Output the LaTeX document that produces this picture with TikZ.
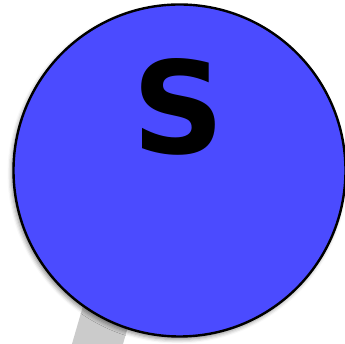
\documentclass[tikz,border=0pt]{standalone}
\usepackage{fontspec}
\setmainfont{DejaVu Sans}
\usepackage{tikz}
\usetikzlibrary{positioning, shadows.blur}

\definecolor{nodeblue}{HTML}{4B4BFF}
\definecolor{bandgray}{HTML}{CBCBCB}

\tikzset{
  bignode/.style={circle, draw=black, line width=2.4pt, fill=nodeblue,
    minimum size=332pt, inner sep=0pt,
    blur shadow={shadow xshift=-2pt, shadow yshift=-3pt, shadow blur radius=4pt, shadow opacity=45}},
  band/.style={line width=49pt, bandgray}
}

\begin{document}
\begin{tikzpicture}[x=1pt, y=1pt]
        \useasboundingbox (0,0) rectangle (345,344);
        
        \coordinate (tail) at (94,-12);
        \coordinate (head) at (148,174);
        \draw[band] (tail) -- (head);
        
        \node[bignode] (s) at (179.5,173.5) {};
        \node[font=\fontsize{128}{128}\selectfont\bfseries] (slabel) at (179,237) {S};
    \end{tikzpicture}
\end{document}
